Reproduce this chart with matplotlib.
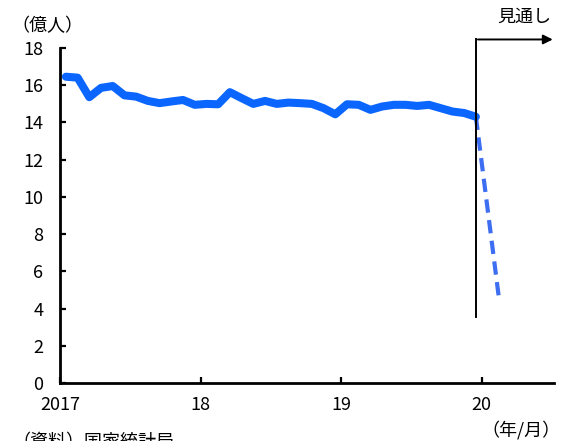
import matplotlib
matplotlib.use("Agg")
import matplotlib.pyplot as plt

plt.rcParams['font.family'] = ['Noto Sans CJK JP', 'DejaVu Sans']

# monthly passenger numbers (100 million people), Jan 2017 - Dec 2019
actual = [16.45, 16.40, 15.35, 15.85, 15.95, 15.45, 15.38, 15.15, 15.03, 15.12, 15.20, 14.94,
          14.99, 14.97, 15.62, 15.30, 14.99, 15.15, 14.99, 15.06, 15.03, 14.99, 14.76, 14.43,
          14.97, 14.94, 14.67, 14.85, 14.94, 14.94, 14.88, 14.94, 14.76, 14.58, 14.50, 14.30]
# outlook: Dec 2019 -> Feb 2020
outlook_idx = [35, 37]
outlook = [14.30, 4.40]
year_ticks = [0, 12, 24, 36]
year_labels = ['2017', '18', '19', '20']

fig = plt.figure(figsize=(5.63, 4.41), dpi=100)
ax = fig.add_axes([0.1066, 0.1315, 0.877, 0.760])

x_act = [i + 0.5 for i in range(len(actual))]
x_out = [i + 0.5 for i in outlook_idx]
ax.plot(x_act, actual, color='#0a66ff', lw=5.8, solid_capstyle='round', solid_joinstyle='round', zorder=3)
ax.plot(x_out, outlook, color='#3d6ef2', lw=3.0, dashes=(3.2, 1.8), zorder=2)

# outlook marker: vertical line with arrow to the right
x_v = 35.5
ax.plot([x_v, x_v], [3.55, 18.45], color='black', lw=1.4, clip_on=False, zorder=4)
ax.annotate('', xy=(42.3, 18.45), xytext=(x_v - 0.06, 18.45),
            arrowprops=dict(arrowstyle='-|>', color='black', lw=1.4, mutation_scale=14),
            annotation_clip=False)
ax.text(39.6, 19.2, '見通し', fontsize=13, ha='center', va='bottom')

ax.set_xlim(0, 42.15)
ax.set_ylim(0, 18)
ax.set_yticks(range(0, 19, 2))
ax.set_xticks(year_ticks)
ax.set_xticklabels(year_labels)
ax.tick_params(direction='in', length=4, width=1.6, labelsize=13)
ax.tick_params(axis='y', pad=12)
ax.tick_params(axis='x', pad=9)
for s in ['top', 'right']:
    ax.spines[s].set_visible(False)
for s in ['left', 'bottom']:
    ax.spines[s].set_linewidth(2)

fig.text(0.02, 0.941, '（億人）', fontsize=13, ha='left', va='center')
fig.text(0.995, 0.026, '（年/月）', fontsize=13, ha='right', va='center')
fig.text(0.022, -0.002, '（資料）国家統計局', fontsize=13, ha='left', va='center')

fig.savefig('out.png', dpi=100)
